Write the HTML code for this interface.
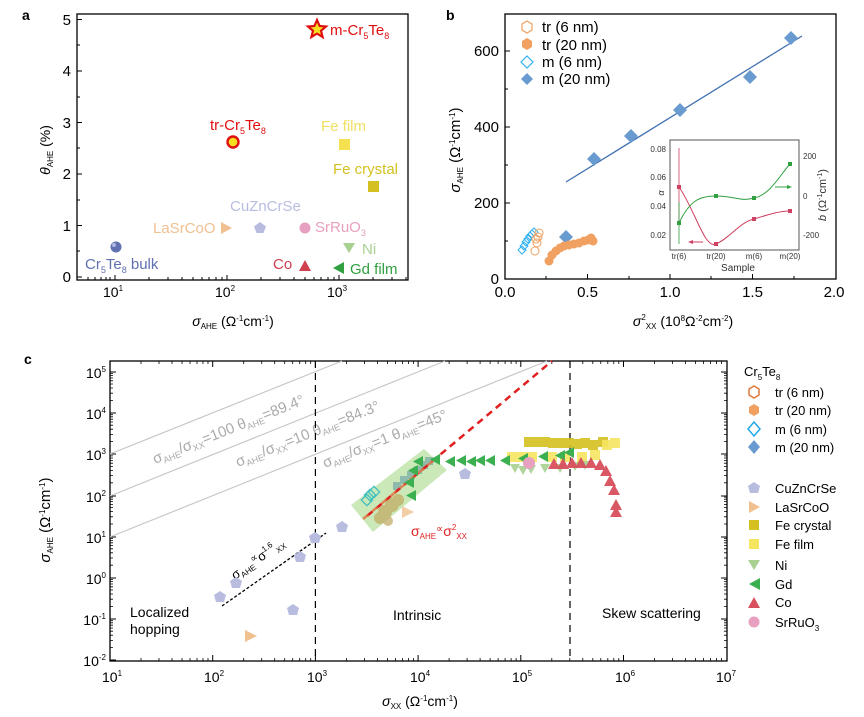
<!DOCTYPE html>
<html><head><meta charset="utf-8"><style>
html,body{margin:0;padding:0;background:#fff;}
svg{display:block;font-family:"Liberation Sans",sans-serif;}
</style></head><body>
<svg width="864" height="717" viewBox="0 0 864 717" xmlns="http://www.w3.org/2000/svg">
<!-- ===== Panel a ===== -->
<text x="22" y="20" font-size="14" font-weight="bold">a</text>
<rect x="77" y="14" width="331" height="266" fill="none" stroke="#000" stroke-width="1.3"/>
<g stroke="#000" stroke-width="1">
<line x1="77" y1="277" x2="82" y2="277"/><line x1="77" y1="225.5" x2="82" y2="225.5"/><line x1="77" y1="174" x2="82" y2="174"/><line x1="77" y1="122.5" x2="82" y2="122.5"/><line x1="77" y1="71" x2="82" y2="71"/><line x1="77" y1="19.5" x2="82" y2="19.5"/>
<line x1="77" y1="251" x2="80" y2="251"/><line x1="77" y1="200" x2="80" y2="200"/><line x1="77" y1="148" x2="80" y2="148"/><line x1="77" y1="97" x2="80" y2="97"/><line x1="77" y1="45" x2="80" y2="45"/>
<line x1="115" y1="280" x2="115" y2="275"/><line x1="227" y1="280" x2="227" y2="275"/><line x1="339" y1="280" x2="339" y2="275"/>
<line x1="88" y1="280" x2="88" y2="277"/><line x1="95" y1="280" x2="95" y2="277"/><line x1="101" y1="280" x2="101" y2="277"/><line x1="106" y1="280" x2="106" y2="277"/><line x1="110" y1="280" x2="110" y2="277"/>
<line x1="149" y1="280" x2="149" y2="277"/><line x1="168" y1="280" x2="168" y2="277"/><line x1="182" y1="280" x2="182" y2="277"/><line x1="193" y1="280" x2="193" y2="277"/><line x1="202" y1="280" x2="202" y2="277"/><line x1="209" y1="280" x2="209" y2="277"/><line x1="216" y1="280" x2="216" y2="277"/><line x1="222" y1="280" x2="222" y2="277"/>
<line x1="261" y1="280" x2="261" y2="277"/><line x1="280" y1="280" x2="280" y2="277"/><line x1="294" y1="280" x2="294" y2="277"/><line x1="305" y1="280" x2="305" y2="277"/><line x1="314" y1="280" x2="314" y2="277"/><line x1="321" y1="280" x2="321" y2="277"/><line x1="328" y1="280" x2="328" y2="277"/><line x1="334" y1="280" x2="334" y2="277"/>
<line x1="373" y1="280" x2="373" y2="277"/><line x1="392" y1="280" x2="392" y2="277"/><line x1="406" y1="280" x2="406" y2="277"/>
</g>
<g font-size="15" text-anchor="end">
<text x="71" y="282">0</text><text x="71" y="231">1</text><text x="71" y="179">2</text><text x="71" y="128">3</text><text x="71" y="76">4</text><text x="71" y="25">5</text>
</g>
<g font-size="14" text-anchor="middle">
<text x="113" y="297">10<tspan font-size="8" dy="-6">1</tspan></text>
<text x="225" y="297">10<tspan font-size="8" dy="-6">2</tspan></text>
<text x="337" y="297">10<tspan font-size="8" dy="-6">3</tspan></text>
</g>
<text x="233" y="326" font-size="14" text-anchor="middle"><tspan font-style="italic">σ</tspan><tspan font-size="8" dy="3">AHE</tspan><tspan dy="-3"> (Ω</tspan><tspan font-size="8" dy="-5">-1</tspan><tspan dy="5">cm</tspan><tspan font-size="8" dy="-5">-1</tspan><tspan dy="5">)</tspan></text>
<text transform="translate(50,150) rotate(-90)" font-size="14" text-anchor="middle"><tspan font-style="italic">θ</tspan><tspan font-size="8" dy="3">AHE</tspan><tspan dy="-3"> (%)</tspan></text>
<polygon points="317,20 319.6,26 326,26.5 321,30.8 322.6,37 317,33.6 311.4,37 313,30.8 308,26.5 314.4,26" fill="#f5e020" stroke="#e01010" stroke-width="2.2"/>
<text x="330" y="35" font-size="15" fill="#e01010">m-Cr<tspan font-size="9" dy="4">5</tspan><tspan dy="-4">Te</tspan><tspan font-size="9" dy="4">8</tspan></text>
<circle cx="233" cy="142" r="5.5" fill="#f5e020" stroke="#e01010" stroke-width="2.4"/>
<text x="210" y="130" font-size="15" fill="#e01010">tr-Cr<tspan font-size="9" dy="4">5</tspan><tspan dy="-4">Te</tspan><tspan font-size="9" dy="4">8</tspan></text>
<rect x="339" y="139" width="11" height="11" fill="#f5e050"/>
<text x="321" y="131" font-size="15" fill="#f0e060">Fe film</text>
<rect x="368" y="181" width="11" height="11" fill="#d4c020"/>
<text x="333" y="174" font-size="15" fill="#d4c020">Fe crystal</text>
<polygon points="260,222 266,226.5 263.5,233 256.5,233 254,226.5" fill="#b8bde0"/>
<text x="230" y="211" font-size="15" fill="#b8bde0">CuZnCrSe</text>
<polygon points="221,222 232,228 221,234" fill="#f0c090"/>
<text x="153" y="233" font-size="15" fill="#f0c090">LaSrCoO</text>
<circle cx="305" cy="228" r="5.5" fill="#e8a0c0"/>
<text x="315" y="232" font-size="15" fill="#e8a0c0">SrRuO<tspan font-size="9" dy="4">3</tspan></text>
<circle cx="116" cy="247" r="5.5" fill="#6070b0"/>
<circle cx="114" cy="245" r="2" fill="#b0b8e0"/>
<text x="85" y="269" font-size="15" fill="#6070b0">Cr<tspan font-size="9" dy="4">5</tspan><tspan dy="-4">Te</tspan><tspan font-size="9" dy="4">8</tspan><tspan dy="-4"> bulk</tspan></text>
<polygon points="343,243 355,243 349,253" fill="#a8d090"/>
<text x="362" y="254" font-size="15" fill="#a8d090">Ni</text>
<polygon points="299,271 311,271 305,260" fill="#d04050"/>
<text x="273" y="269" font-size="15" fill="#d04050">Co</text>
<polygon points="344,262 344,274 333,268" fill="#30a040"/>
<text x="350" y="274" font-size="15" fill="#30a040">Gd film</text>

<!-- ===== Panel b ===== -->
<text x="446" y="20" font-size="14" font-weight="bold">b</text>
<rect x="505" y="14" width="331" height="265" fill="none" stroke="#000" stroke-width="1.3"/>
<g stroke="#000" stroke-width="1">
<line x1="505" y1="241" x2="508" y2="241"/><line x1="505" y1="203" x2="510" y2="203"/><line x1="505" y1="165" x2="508" y2="165"/><line x1="505" y1="127" x2="510" y2="127"/><line x1="505" y1="89" x2="508" y2="89"/><line x1="505" y1="51" x2="510" y2="51"/>
<line x1="546" y1="279" x2="546" y2="276"/><line x1="587.5" y1="279" x2="587.5" y2="274"/><line x1="629" y1="279" x2="629" y2="276"/><line x1="670" y1="279" x2="670" y2="274"/><line x1="711" y1="279" x2="711" y2="276"/><line x1="752.5" y1="279" x2="752.5" y2="274"/><line x1="794" y1="279" x2="794" y2="276"/>
</g>
<g font-size="15" text-anchor="end">
<text x="499" y="284">0</text><text x="499" y="208">200</text><text x="499" y="132">400</text><text x="499" y="56">600</text>
</g>
<g font-size="15" text-anchor="middle">
<text x="505" y="297">0.0</text><text x="587.5" y="297">0.5</text><text x="670" y="297">1.0</text><text x="752.5" y="297">1.5</text><text x="834" y="297">2.0</text>
</g>
<text x="683" y="326" font-size="14" text-anchor="middle"><tspan font-style="italic">σ</tspan><tspan font-size="8" dy="-6">2</tspan><tspan font-size="8" dy="9">XX</tspan><tspan dy="-3"> (10</tspan><tspan font-size="8" dy="-5">8</tspan><tspan dy="5">Ω</tspan><tspan font-size="8" dy="-5">-2</tspan><tspan dy="5">cm</tspan><tspan font-size="8" dy="-5">-2</tspan><tspan dy="5">)</tspan></text>
<text transform="translate(460,150) rotate(-90)" font-size="15" text-anchor="middle"><tspan font-style="italic">σ</tspan><tspan font-size="8" dy="3">AHE</tspan><tspan dy="-3"> (Ω</tspan><tspan font-size="8" dy="-5">-1</tspan><tspan dy="5">cm</tspan><tspan font-size="8" dy="-5">-1</tspan><tspan dy="5">)</tspan></text>
<polygon points="527,21 532,24 532,30 527,33 522,30 522,24" fill="none" stroke="#f0a060" stroke-width="1.2"/>
<text x="542" y="32" font-size="15">tr (6 nm)</text>
<polygon points="527,38 532,41 532,47 527,50 522,47 522,41" fill="#f0a060"/>
<text x="542" y="50" font-size="15">tr (20 nm)</text>
<polygon points="527,56 533,62 527,68 521,62" fill="none" stroke="#30b0f0" stroke-width="1.2"/>
<text x="542" y="67" font-size="15">m (6 nm)</text>
<polygon points="527,73 533,79 527,85 521,79" fill="#6a9bd0"/>
<text x="542" y="84" font-size="15">m (20 nm)</text>
<line x1="566" y1="182" x2="802" y2="36" stroke="#4070b0" stroke-width="1.3"/>
<g fill="#6a9bd0">
<polygon points="566,230 573,237 566,244 559,237"/>
<polygon points="594,152 601,159 594,166 587,159"/>
<polygon points="631,129 638,136 631,143 624,136"/>
<polygon points="680,103 687,110 680,117 673,110"/>
<polygon points="750,70 757,77 750,84 743,77"/>
<polygon points="791,31 798,38 791,45 784,38"/>
</g>
<g fill="none" stroke="#30b0f0" stroke-width="1">
<polygon points="522,246 526,250 522,254 518,250"/><polygon points="524,242 528,246 524,250 520,246"/><polygon points="526,238 530,242 526,246 522,242"/><polygon points="528,235 532,239 528,243 524,239"/><polygon points="530,232 534,236 530,240 526,236"/><polygon points="532,230 536,234 532,238 528,234"/><polygon points="534,228 538,232 534,236 530,232"/>
</g>
<g fill="none" stroke="#f0a060" stroke-width="1">
<circle cx="535" cy="251" r="4"/><circle cx="537" cy="243" r="4"/><circle cx="538" cy="237" r="4"/><circle cx="539" cy="233" r="4"/><circle cx="536" cy="239" r="4"/>
</g>
<g fill="#f0a060">
<circle cx="549" cy="261" r="4.5"/><circle cx="552" cy="255" r="4.5"/><circle cx="556" cy="251" r="4.5"/><circle cx="560" cy="248" r="4.5"/><circle cx="564" cy="246" r="4.5"/><circle cx="569" cy="245" r="4.5"/><circle cx="574" cy="244" r="4.5"/><circle cx="579" cy="243" r="4.5"/><circle cx="584" cy="241" r="4.5"/><circle cx="588" cy="240" r="4.5"/><circle cx="591" cy="238" r="4.5"/><circle cx="593" cy="241" r="4.5"/>
</g>
<rect x="670" y="140" width="129" height="110" fill="#fff" stroke="#555" stroke-width="1"/>
<g font-size="8" fill="#333">
<text x="666" y="152" text-anchor="end">0.08</text><text x="666" y="180" text-anchor="end">0.06</text><text x="666" y="209" text-anchor="end">0.04</text><text x="666" y="238" text-anchor="end">0.02</text>
<text x="803" y="159">200</text><text x="803" y="199">0</text><text x="803" y="238">-200</text>
<text x="679" y="259" text-anchor="middle">tr(6)</text><text x="716" y="259" text-anchor="middle">tr(20)</text><text x="754" y="259" text-anchor="middle">m(6)</text><text x="790" y="259" text-anchor="middle">m(20)</text>
</g>
<text x="738" y="271" font-size="10" text-anchor="middle" fill="#333">Sample</text>
<text transform="translate(664,193) rotate(-90)" font-size="9" font-style="italic" fill="#333" text-anchor="middle">α</text>
<text transform="translate(826,195) rotate(-90)" font-size="11" fill="#333" text-anchor="middle"><tspan font-style="italic">b</tspan> (Ω<tspan font-size="7" dy="-4">-1</tspan><tspan dy="4">cm</tspan><tspan font-size="7" dy="-4">-1</tspan><tspan dy="4">)</tspan></text>
<path d="M679,187 C695,210 705,250 716,244 C730,238 740,222 754,219 C770,214 780,211 790,211" fill="none" stroke="#d04060" stroke-width="1"/>
<path d="M679,223 C690,200 700,196 716,196 C735,196 740,202 754,198 C770,195 780,175 790,164" fill="none" stroke="#30a040" stroke-width="1"/>
<line x1="679" y1="148" x2="679" y2="226" stroke="#d04060" stroke-width="0.8"/>
<line x1="679" y1="202" x2="679" y2="244" stroke="#30a040" stroke-width="0.8"/>
<g fill="#d04060"><rect x="677" y="185" width="4" height="4"/><rect x="714" y="242" width="4" height="4"/><rect x="752" y="217" width="4" height="4"/><rect x="788" y="209" width="4" height="4"/></g>
<g fill="#30a040"><rect x="677" y="221" width="4" height="4"/><rect x="714" y="194" width="4" height="4"/><rect x="752" y="196" width="4" height="4"/><rect x="788" y="162" width="4" height="4"/></g>
<line x1="690" y1="242" x2="703" y2="242" stroke="#d04060" stroke-width="1"/><polygon points="688,242 693,240 693,244" fill="#d04060"/>
<line x1="775" y1="187" x2="789" y2="187" stroke="#30a040" stroke-width="1"/><polygon points="792,187 787,185 787,189" fill="#30a040"/>

<!-- ===== Panel c ===== -->
<text x="24" y="364" font-size="14" font-weight="bold">c</text>
<rect x="110" y="361" width="617" height="300" fill="none" stroke="#000" stroke-width="1.3"/>
<g stroke="#000" stroke-width="1">
<line x1="110" y1="372" x2="116" y2="372"/><line x1="110" y1="413" x2="116" y2="413"/><line x1="110" y1="454" x2="116" y2="454"/><line x1="110" y1="496" x2="116" y2="496"/><line x1="110" y1="537" x2="116" y2="537"/><line x1="110" y1="578" x2="116" y2="578"/><line x1="110" y1="619" x2="116" y2="619"/><line x1="110" y1="660" x2="116" y2="660"/>
<line x1="727" y1="372" x2="721" y2="372"/><line x1="727" y1="413" x2="721" y2="413"/><line x1="727" y1="454" x2="721" y2="454"/><line x1="727" y1="496" x2="721" y2="496"/><line x1="727" y1="537" x2="721" y2="537"/><line x1="727" y1="578" x2="721" y2="578"/><line x1="727" y1="619" x2="721" y2="619"/>
<line x1="212.7" y1="661" x2="212.7" y2="655"/><line x1="315.4" y1="661" x2="315.4" y2="655"/><line x1="418.1" y1="661" x2="418.1" y2="655"/><line x1="520.8" y1="661" x2="520.8" y2="655"/><line x1="623.5" y1="661" x2="623.5" y2="655"/>
<line x1="212.7" y1="361" x2="212.7" y2="367"/><line x1="315.4" y1="361" x2="315.4" y2="367"/><line x1="418.1" y1="361" x2="418.1" y2="367"/><line x1="520.8" y1="361" x2="520.8" y2="367"/><line x1="623.5" y1="361" x2="623.5" y2="367"/>
</g>
<g stroke="#000" stroke-width="0.8" fill="none">
<path id="minx" d="M141,661v-3M159,661v-3M172,661v-3M182,661v-3M190,661v-3M197,661v-3M203,661v-3M208,661v-3M141,361v3M159,361v3M172,361v3M182,361v3M190,361v3M197,361v3M203,361v3M208,361v3"/>
<use href="#minx" x="102.7"/><use href="#minx" x="205.4"/><use href="#minx" x="308.1"/><use href="#minx" x="410.8"/><use href="#minx" x="513.5"/>
<path id="miny" d="M110,647.6h3M110,640.4h3M110,635.2h3M110,631.2h3M110,628h3M110,625.2h3M110,622.8h3M110,620.7h3M727,647.6h-3M727,640.4h-3M727,635.2h-3M727,631.2h-3M727,628h-3M727,625.2h-3M727,622.8h-3M727,620.7h-3"/>
<use href="#miny" y="-41.2"/><use href="#miny" y="-82.4"/><use href="#miny" y="-123.6"/><use href="#miny" y="-164.8"/><use href="#miny" y="-206"/><use href="#miny" y="-247.2"/>
</g>
<g font-size="14" text-anchor="end">
<text x="106" y="378">10<tspan font-size="8" dy="-6">5</tspan></text>
<text x="106" y="419">10<tspan font-size="8" dy="-6">4</tspan></text>
<text x="106" y="460">10<tspan font-size="8" dy="-6">3</tspan></text>
<text x="106" y="502">10<tspan font-size="8" dy="-6">2</tspan></text>
<text x="106" y="543">10<tspan font-size="8" dy="-6">1</tspan></text>
<text x="106" y="584">10<tspan font-size="8" dy="-6">0</tspan></text>
<text x="106" y="625">10<tspan font-size="8" dy="-6">-1</tspan></text>
<text x="106" y="666">10<tspan font-size="8" dy="-6">-2</tspan></text>
</g>
<g font-size="14" text-anchor="middle">
<text x="112" y="682">10<tspan font-size="8" dy="-6">1</tspan></text>
<text x="214" y="682">10<tspan font-size="8" dy="-6">2</tspan></text>
<text x="317" y="682">10<tspan font-size="8" dy="-6">3</tspan></text>
<text x="420" y="682">10<tspan font-size="8" dy="-6">4</tspan></text>
<text x="522" y="682">10<tspan font-size="8" dy="-6">5</tspan></text>
<text x="625" y="682">10<tspan font-size="8" dy="-6">6</tspan></text>
<text x="726" y="682">10<tspan font-size="8" dy="-6">7</tspan></text>
</g>
<text x="420" y="706" font-size="14" text-anchor="middle"><tspan font-style="italic">σ</tspan><tspan font-size="8" dy="3">XX</tspan><tspan dy="-3"> (Ω</tspan><tspan font-size="8" dy="-5">-1</tspan><tspan dy="5">cm</tspan><tspan font-size="8" dy="-5">-1</tspan><tspan dy="5">)</tspan></text>
<text transform="translate(50,520) rotate(-90)" font-size="15" text-anchor="middle"><tspan font-style="italic">σ</tspan><tspan font-size="8" dy="3">AHE</tspan><tspan dy="-3"> (Ω</tspan><tspan font-size="8" dy="-5">-1</tspan><tspan dy="5">cm</tspan><tspan font-size="8" dy="-5">-1</tspan><tspan dy="5">)</tspan></text>
<g stroke="#c8c8c8" stroke-width="1.2">
<line x1="110" y1="454" x2="342" y2="361"/>
<line x1="110" y1="496" x2="445" y2="361"/>
<line x1="110" y1="537" x2="547" y2="361"/>
</g>
<g fill="#aaa" font-size="15">
<text transform="translate(155,464) rotate(-21.8)">σ<tspan font-size="9" dy="3">AHE</tspan><tspan dy="-3">/σ</tspan><tspan font-size="9" dy="3">XX</tspan><tspan dy="-3">=100  θ</tspan><tspan font-size="9" dy="3">AHE</tspan><tspan dy="-3">=89.4°</tspan></text>
<text transform="translate(238,467) rotate(-21.8)">σ<tspan font-size="9" dy="3">AHE</tspan><tspan dy="-3">/σ</tspan><tspan font-size="9" dy="3">XX</tspan><tspan dy="-3">=10  θ</tspan><tspan font-size="9" dy="3">AHE</tspan><tspan dy="-3">=84.3°</tspan></text>
<text transform="translate(325,468) rotate(-21.8)">σ<tspan font-size="9" dy="3">AHE</tspan><tspan dy="-3">/σ</tspan><tspan font-size="9" dy="3">XX</tspan><tspan dy="-3">=1  θ</tspan><tspan font-size="9" dy="3">AHE</tspan><tspan dy="-3">=45°</tspan></text>
</g>
<line x1="315.4" y1="361" x2="315.4" y2="661" stroke="#000" stroke-width="1.2" stroke-dasharray="7,5"/>
<line x1="570" y1="361" x2="570" y2="661" stroke="#000" stroke-width="1.2" stroke-dasharray="7,5"/>
<polygon points="351,505 373,532 447,470 424,449" fill="#b8e0a0" opacity="0.75"/>
<g fill="#c0a860" opacity="0.7"><circle cx="385" cy="512" r="7"/><circle cx="392" cy="505" r="7"/><circle cx="380" cy="518" r="6"/><circle cx="398" cy="500" r="6"/><circle cx="388" cy="521" r="5"/></g>
<g fill="none" stroke="#40c0c0" stroke-width="1.3"><rect x="363" y="496" width="8" height="8" transform="rotate(45 367 500)"/><rect x="366" y="491" width="8" height="8" transform="rotate(45 370 495)"/><rect x="370" y="488" width="8" height="8" transform="rotate(45 374 492)"/></g>
<g fill="#80b0a8" opacity="0.8"><rect x="393" y="482" width="8" height="8"/><rect x="400" y="476" width="8" height="8"/><rect x="407" y="471" width="8" height="8"/><rect x="414" y="466" width="8" height="8"/><rect x="420" y="461" width="8" height="8"/><rect x="425" y="457" width="8" height="8"/></g>
<line x1="367" y1="516" x2="552" y2="361" stroke="#e02020" stroke-width="2.5" stroke-dasharray="7,5"/>
<line x1="363" y1="519" x2="440" y2="455" stroke="#e07040" stroke-width="2.5" stroke-dasharray="7,5" opacity="0.8"/>
<text x="411" y="536" font-size="14" fill="#e02020">σ<tspan font-size="8" dy="3">AHE</tspan><tspan dy="-7" font-size="10">∝</tspan><tspan dy="4">σ</tspan><tspan font-size="8" dy="-6">2</tspan><tspan font-size="8" dy="9">XX</tspan></text>
<line x1="222" y1="606" x2="326" y2="533" stroke="#000" stroke-width="1.3" stroke-dasharray="3,2"/>
<text transform="translate(235,580) rotate(-35)" font-size="13">σ<tspan font-size="8" dy="3">AHE</tspan><tspan dy="-7" font-size="10">∝</tspan><tspan dy="4">σ</tspan><tspan font-size="8" dy="-6">1.6</tspan><tspan font-size="8" dy="9">XX</tspan></text>
<g fill="#d4c020" opacity="0.9">
<rect x="524" y="437" width="10" height="10"/><rect x="532" y="437" width="10" height="10"/><rect x="540" y="437" width="10" height="10"/><rect x="548" y="438" width="10" height="10"/><rect x="556" y="438" width="10" height="10"/><rect x="564" y="438" width="10" height="10"/><rect x="572" y="439" width="10" height="10"/><rect x="580" y="438" width="10" height="10"/><rect x="588" y="440" width="10" height="10"/><rect x="598" y="437" width="10" height="10"/>
</g>
<g fill="#f5e560" opacity="0.9">
<rect x="507" y="452" width="10" height="10"/><rect x="517" y="452" width="10" height="10"/><rect x="527" y="452" width="10" height="10"/><rect x="547" y="452" width="10" height="10"/><rect x="560" y="452" width="10" height="10"/><rect x="577" y="452" width="10" height="10"/><rect x="590" y="450" width="10" height="10"/><rect x="602" y="440" width="10" height="10"/><rect x="610" y="438" width="10" height="10"/>
</g>
<g fill="#a8d090" opacity="0.9">
<polygon points="510,464 520,464 515,473"/><polygon points="518,466 528,466 523,475"/><polygon points="526,465 536,465 531,474"/><polygon points="540,464 550,464 545,473"/><polygon points="555,464 565,464 560,473"/><polygon points="570,462 580,462 575,471"/><polygon points="580,461 590,461 585,470"/>
</g>
<g fill="#3cb050">
<polygon points="423,456 423,467 413,461.5"/><polygon points="440,454 440,465 430,459.5"/><polygon points="455,456 455,467 445,461.5"/><polygon points="466,455 466,466 456,460.5"/><polygon points="476,456 476,467 466,461.5"/><polygon points="485,455 485,466 475,460.5"/><polygon points="495,455 495,466 485,460.5"/><polygon points="510,455 510,466 500,460.5"/><polygon points="528,453 528,464 518,458.5"/><polygon points="548,451 548,462 538,456.5"/><polygon points="565,450 565,461 555,455.5"/><polygon points="574,447 574,458 564,452.5"/>
<polygon points="418,465 418,476 408,470.5"/><polygon points="414,477 414,488 404,482.5"/><polygon points="416,490 416,501 406,495.5"/>
</g>
<circle cx="529" cy="463" r="6" fill="#e8a0c0"/>
<g fill="#d8505c" opacity="0.95">
<polygon points="548,469 560,469 554,458"/><polygon points="557,469 569,469 563,458"/><polygon points="566,468 578,468 572,457"/><polygon points="575,468 587,468 581,457"/><polygon points="585,468 597,468 591,457"/><polygon points="594,470 606,470 600,459"/><polygon points="600,476 612,476 606,465"/><polygon points="604,486 616,486 610,475"/><polygon points="608,495 620,495 614,484"/><polygon points="610,510 622,510 616,499"/><polygon points="610,517 622,517 616,506"/>
</g>
<g fill="#b8bde0">
<polygon id="pg" points="0,-6 6,-2 4,5 -4,5 -6,-2" transform="translate(220,597)"/>
<use href="#pg" x="16" y="-14"/><use href="#pg" x="80" y="-40"/><use href="#pg" x="95" y="-59"/><use href="#pg" x="122" y="-70"/><use href="#pg" x="73" y="13"/><use href="#pg" x="245" y="-123"/>
</g>
<polygon points="245,630 257,636 245,642" fill="#f0c090"/>
<polygon points="402,506 414,512 402,518" fill="#f0c090" opacity="0.8"/>
<g font-size="14">
<text x="130" y="617">Localized</text><text x="130" y="634">hopping</text>
<text x="393" y="620">Intrinsic</text>
<text x="602" y="618">Skew scattering</text>
</g>
<text x="744" y="376" font-size="13">Cr<tspan font-size="8" dy="4">5</tspan><tspan dy="-4">Te</tspan><tspan font-size="8" dy="4">8</tspan></text>
<polygon points="754,386 759,389 759,395 754,398 749,395 749,389" fill="none" stroke="#e07838" stroke-width="1.5"/>
<text x="775" y="397" font-size="13">tr (6 nm)</text>
<polygon points="754,404 759,407 759,413 754,416 749,413 749,407" fill="#f0a060"/>
<text x="775" y="415" font-size="13">tr (20 nm)</text>
<polygon points="754,422 760,429 754,436 748,429" fill="none" stroke="#20a8e8" stroke-width="1.5"/>
<text x="775" y="434" font-size="13">m (6 nm)</text>
<polygon points="754,440 760,447 754,454 748,447" fill="#6a9bd0"/>
<text x="775" y="452" font-size="13">m (20 nm)</text>
<polygon points="754,482 760,486 758,493 750,493 748,486" fill="#b8bde0"/>
<text x="775" y="493" font-size="13">CuZnCrSe</text>
<polygon points="749,501 760,507 749,513" fill="#f0c090"/>
<text x="775" y="512" font-size="13">LaSrCoO</text>
<rect x="749" y="520" width="10" height="10" fill="#d4c020"/>
<text x="775" y="530" font-size="13">Fe crystal</text>
<rect x="749" y="539" width="10" height="10" fill="#f5e560"/>
<text x="775" y="549" font-size="13">Fe film</text>
<polygon points="748,560 760,560 754,570" fill="#a8d090"/>
<text x="775" y="570" font-size="13">Ni</text>
<polygon points="760,578 760,590 749,584" fill="#3cb050"/>
<text x="775" y="589" font-size="13">Gd</text>
<polygon points="748,608 760,608 754,597" fill="#d8505c"/>
<text x="775" y="607" font-size="13">Co</text>
<circle cx="754" cy="622" r="5.5" fill="#e8a0c0"/>
<text x="775" y="627" font-size="13">SrRuO<tspan font-size="8" dy="4">3</tspan></text>
</svg>
</body></html>
